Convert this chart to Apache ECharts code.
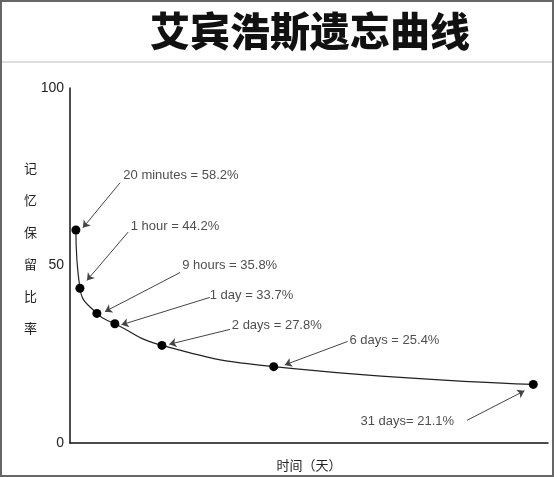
<!DOCTYPE html>
<html><head><meta charset="utf-8">
<script src="https://cdn.jsdelivr.net/npm/echarts@6/dist/echarts.min.js"></script>
<style>html,body{margin:0;padding:0;background:#fff}#c{width:554px;height:477px}</style>
</head><body><div id="c"></div>
<script>
const labels = ["20 minutes = 58.2%","1 hour = 44.2%","9 hours = 35.8%","1 day = 33.7%","2 days = 27.8%","6 days = 25.4%","31 days= 21.1%"];
const xPos = [1.6, 2.7, 7.3, 12.2, 25, 55.4, 126];
const yVals = [60, 43.6, 36.5, 33.6, 27.5, 21.5, 16.5];
const labelAt = [[14.5,75.5],[16.5,61],[30.5,50],[38,41.5],[44,33],[76,29],[79,6.2]];
const arrowFrom = [[13.6,73.3],[15.8,59.4],[29.9,48],[38,41],[43.5,32],[75.5,28.6],[108,6.4]];
const arrowTo = [[3.5,60.6],[4.6,45.8],[9.5,37],[14,33.3],[27,27.8],[58.4,22],[123.6,14.7]];
const font = "Liberation Sans";
const chart = echarts.init(document.getElementById('c'));
chart.setOption({
  animation:false,
  backgroundColor:'#fff',
  title:{text:'艾宾浩斯遗忘曲线',left:305,top:6,textAlign:'center',textStyle:{fontFamily:'Noto Sans CJK SC',fontSize:40,fontWeight:900,color:'#111'}},
  graphic:[
    {type:'rect',shape:{x:1,y:1,width:552,height:475},style:{fill:'none',stroke:'#666',lineWidth:2}},
    {type:'line',shape:{x1:2,y1:62,x2:552,y2:62},style:{stroke:'#bbb',lineWidth:1}},
    {type:'text',left:24,top:160,style:{text:'记\n\n忆\n\n保\n\n留\n\n比\n\n率',font:'13px "Noto Sans CJK SC"',fill:'#222',lineHeight:16}}
  ],
  grid:{left:70,top:88,right:6,bottom:29},
  xAxis:{type:'value',min:0,max:130,axisLine:{show:true,onZero:false,lineStyle:{color:'#111',width:1.5}},axisTick:{show:false},axisLabel:{show:false},splitLine:{show:false},
    name:'时间（天）',nameLocation:'middle',nameGap:16,nameTextStyle:{fontFamily:'Noto Sans CJK SC',fontSize:13,color:'#222'}},
  yAxis:{type:'value',min:0,max:100,interval:50,axisLine:{show:true,lineStyle:{color:'#111',width:1.5}},axisTick:{show:false},splitLine:{show:false},
    axisLabel:{fontFamily:font,fontSize:14,color:'#222',margin:6}},
  series:[
    {type:'line',smooth:0.5,data:xPos.map((x,i)=>[x,yVals[i]]),symbol:'circle',symbolSize:9,
      itemStyle:{color:'#000'},lineStyle:{color:'#222',width:1.2},
      markLine:{silent:true,symbol:['none','arrow'],symbolSize:7,label:{show:false},lineStyle:{color:'#444',width:1,type:'solid'},
        data:arrowFrom.map((f,i)=>[{coord:f},{coord:arrowTo[i]}])}},
    {type:'scatter',symbolSize:0,data:labelAt.map((p,i)=>({value:p,name:labels[i]})),
      label:{show:true,position:'right',distance:0,formatter:p=>p.name,fontFamily:font,fontSize:13,color:'#222'}}
  ]
});
</script></body></html>
